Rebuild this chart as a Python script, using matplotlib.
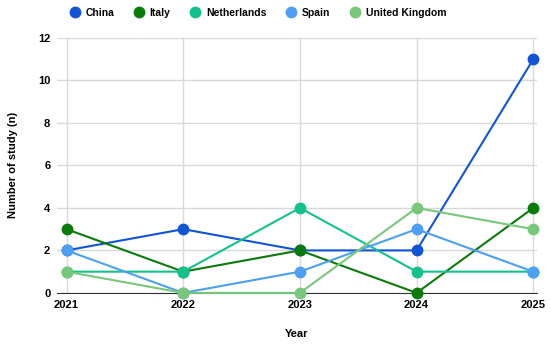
import numpy as np
import matplotlib.pyplot as plt

# data
years = [2021, 2022, 2023, 2024, 2025]
china = [2, 3, 2, 2, 11]
italy = [3, 1, 2, 0, 4]
netherlands = [1, 1, 4, 1, 1]
spain = [2, 0, 1, 3, 1]
uk = [1, 0, 0, 4, 3]

series = [
    ('China', china, '#1155d6'),
    ('Italy', italy, '#0a7a0a'),
    ('Netherlands', netherlands, '#12c18c'),
    ('Spain', spain, '#4c9ff2'),
    ('United Kingdom', uk, '#79c77b'),
]

plt.rcParams['font.family'] = ['Liberation Sans', 'DejaVu Sans']

fig = plt.figure(figsize=(5.5, 3.45), dpi=100)
ax = fig.add_axes([0.104, 0.151, 0.872, 0.739])

for name, vals, col in series:
    ax.plot(years, vals, color=col, lw=1.5, marker='o', ms=7.5, label=name,
            clip_on=False, zorder=3)

ax.set_xlim(2020.92, 2025.03)
ax.set_ylim(0, 12)
ax.set_xticks(years)
ax.set_yticks(np.arange(0, 13, 2))
ax.grid(True, color='#d9d9d9', lw=1)
ax.set_axisbelow(True)
for s in ['top', 'right', 'left']:
    ax.spines[s].set_visible(False)
ax.spines['bottom'].set_color('#333333')
ax.spines['bottom'].set_zorder(2)
ax.tick_params(length=0, labelsize=8, pad=5)
for lab in ax.get_xticklabels() + ax.get_yticklabels():
    lab.set_fontweight('bold')

ax.set_xlabel('Year', fontsize=8, fontweight='bold', labelpad=14)
ax.set_ylabel('Number of study (n)', fontsize=8, fontweight='bold', labelpad=14)

leg = fig.legend(loc='upper center', bbox_to_anchor=(0.47, 1.005), ncol=5, frameon=False,
                 prop={'weight': 'bold', 'size': 7.5}, handlelength=0.7,
                 handletextpad=0.7, columnspacing=2.0)
for h in leg.legend_handles:
    h.set_linestyle('none')
    h.set_markersize(7.5)

fig.savefig('out.png', dpi=100)
